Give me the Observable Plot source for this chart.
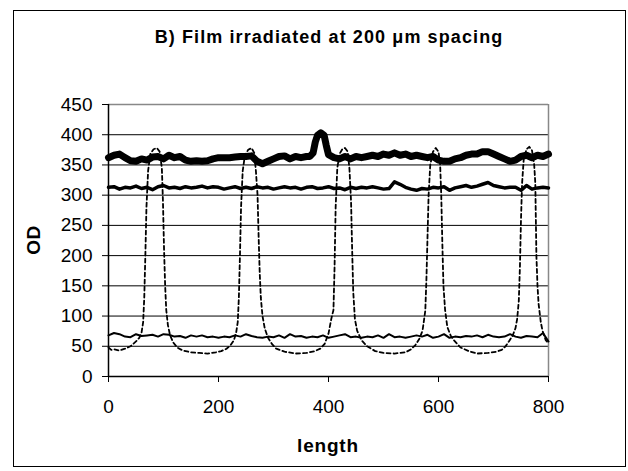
<!DOCTYPE html>
<html>
<head>
<meta charset="utf-8">
<script src="https://cdn.jsdelivr.net/npm/d3@7"></script>
<script src="https://cdn.jsdelivr.net/npm/@observablehq/plot@0.6"></script>
<style>
  html, body { margin: 0; padding: 0; background: #fff; }
  #wrap { position: relative; width: 628px; height: 471px; overflow: hidden; font-family: "Liberation Sans", Arial, sans-serif; }
  #frame { position: absolute; left: 13px; top: 10px; width: 613px; height: 457px; border: 1px solid #000; box-sizing: border-box; }
  #chart { position: absolute; left: 0; top: 0; }
  .t { position: absolute; font-weight: bold; color: #000; white-space: nowrap; }
  #title { left: 0; width: 658px; top: 27px; text-align: center; font-size: 18px; letter-spacing: 1.1px; }
  #xlab { left: 108px; width: 440px; top: 435px; text-align: center; font-size: 19px; letter-spacing: 0.8px; }
  #ylab { left: 34px; top: 240px; font-size: 19px; letter-spacing: 0.5px; transform: translate(-50%, -50%) rotate(-90deg); }
</style>
</head>
<body>
<div id="wrap">
  <div id="frame"></div>
  <div id="chart"></div>
  <div id="title" class="t">B) Film irradiated at 200 μm spacing</div>
  <div id="ylab" class="t">OD</div>
  <div id="xlab" class="t">length</div>
</div>
<script>
const xTicks = [0, 200, 400, 600, 800];
const yTicks = [0, 50, 100, 150, 200, 250, 300, 350, 400, 450];
const gridValues = [50, 100, 150, 200, 250, 300, 350, 400];

// shared sampling positions for the three flat series
const sampleLength = [0,10,20,30,40,50,60,70,80,90,100,110,120,130,140,150,160,170,180,190,200,
  210,220,230,240,250,260,270,280,290,300,310,320,330,340,350,360,370,380,390,400,
  410,420,430,440,450,460,470,480,490,500,510,520,530,540,550,560,570,580,590,600,
  610,620,630,640,650,660,670,680,690,700,710,720,730,740,750,760,770,780,790,800];

// thick series (~365) with a bump near 385
const thickLength = [0,10,20,30,40,50,60,70,80,90,100,110,120,130,140,150,160,170,180,190,200,
  210,220,230,240,250,260,270,280,290,300,310,320,330,340,350,360,366,372,376,380,386,392,396,400,
  410,420,430,440,450,460,470,480,490,500,510,520,530,540,550,560,570,580,590,600,
  610,620,630,640,650,660,670,680,690,700,710,720,730,740,750,760,770,780,790,800];
const thickOD = [362,366,368,362,357,356,360,358,363,364,360,366,362,364,358,356,357,356,357,360,362,
  362,362,363,364,364,365,356,352,356,360,364,365,360,364,362,364,364,370,388,399,403,399,382,367,
  362,360,364,360,364,362,364,366,364,368,366,370,366,368,364,366,364,362,364,358,
  356,356,360,362,366,368,368,372,372,368,364,360,356,358,364,366,362,366,364,368];

const mediumOD = [313,314,310,313,312,315,311,313,309,314,316,312,313,311,314,312,313,315,312,314,313,
  310,312,314,311,313,311,314,312,313,310,312,314,312,313,310,313,314,311,312,314,
  311,312,309,313,311,313,312,314,312,310,311,322,318,313,310,308,311,310,313,312,
  314,308,312,314,316,313,315,318,321,316,314,312,313,313,308,316,310,312,313,312];

const thinOD = [68,72,70,66,65,70,67,68,69,66,70,69,66,67,64,68,66,68,65,66,64,
  66,65,68,66,70,67,65,64,66,65,68,64,70,66,67,64,66,65,68,64,
  66,68,70,65,66,64,66,65,68,64,70,65,66,64,66,68,66,69,64,66,
  70,64,66,65,67,66,68,65,69,66,65,66,70,66,64,67,66,65,72,58];

// dotted series: baseline ~40 with five peaks
const dotLength = [0,5,10,20,30,40,50,56,60,63,65,67,69,72,76,82,88,93,97,99,101,103,105,108,112,118,125,135,150,165,180,195,
  205,215,222,228,232,235,237,239,241,244,248,254,260,265,268,271,273,275,277,280,284,290,297,305,320,340,360,
  375,385,393,400,405,409,411,413,416,420,425,430,435,438,441,443,445,448,452,460,470,485,500,520,
  540,550,558,565,571,576,578,580,582,585,590,595,600,603,605,607,609,612,616,622,628,640,655,670,690,
  705,715,722,728,735,740,743,746,748,750,752,755,760,765,770,774,776,778,780,782,786,789,795,800];
const dotOD = [48,44,45,43,46,50,58,64,72,90,130,200,280,340,368,376,378,372,345,290,210,150,110,85,68,56,48,43,40,39,38,40,
  42,46,52,60,72,90,130,200,280,340,366,375,378,370,340,300,230,170,130,100,80,64,54,46,41,38,39,
  42,46,54,71,95,110,180,280,345,368,376,378,372,345,290,210,140,95,76,60,50,42,39,38,
  40,45,52,62,76,109,160,230,300,350,372,378,372,350,300,220,150,110,82,68,60,48,42,38,39,
  41,44,50,58,68,80,95,125,180,260,320,360,376,380,374,350,320,200,150,120,90,76,60,55];

const flatData = sampleLength.map((x, i) => ({x, medium: mediumOD[i], thin: thinOD[i]}));
const thickData = thickLength.map((x, i) => ({x, y: thickOD[i]}));
const dotData = dotLength.map((x, i) => ({x, y: dotOD[i]}));

const chart = Plot.plot({
  width: 628,
  height: 471,
  marginLeft: 108,
  marginRight: 80,
  marginTop: 104,
  marginBottom: 95,
  style: { fontFamily: "Liberation Sans, Arial, sans-serif", fontSize: "19px", color: "#000", background: "transparent" },
  x: { domain: [0, 800], ticks: xTicks, tickSize: 6, tickPadding: 17, label: null, tickFormat: d => String(d) },
  y: { domain: [0, 450], ticks: yTicks, tickSize: 6, tickPadding: 10, label: null, tickFormat: d => String(d) },
  marks: [
    Plot.ruleY(gridValues, { stroke: "#000", strokeWidth: 1 }),
    Plot.ruleY([450], { stroke: "#888", strokeWidth: 1.5 }),
    Plot.ruleX([800], { stroke: "#888", strokeWidth: 1.5 }),
    Plot.line(dotData, { x: "x", y: "y", stroke: "#000", strokeWidth: 1.8, strokeDasharray: "4,3", curve: "linear" }),
    Plot.line(flatData, { x: "x", y: "thin", stroke: "#000", strokeWidth: 2 }),
    Plot.line(flatData, { x: "x", y: "medium", stroke: "#000", strokeWidth: 3.5 }),
    Plot.line(thickData, { x: "x", y: "y", stroke: "#000", strokeWidth: 7 }),
    Plot.ruleX([0], { stroke: "#000", strokeWidth: 1.5 }),
    Plot.ruleY([0], { stroke: "#000", strokeWidth: 1.5 })
  ]
});
document.getElementById("chart").appendChild(chart);
</script>
</body>
</html>
